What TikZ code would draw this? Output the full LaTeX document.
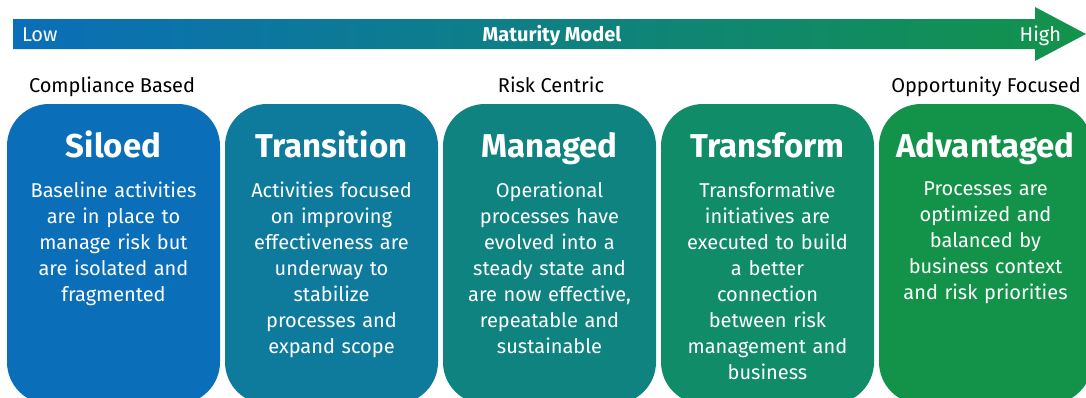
\documentclass[tikz,border=0pt]{standalone}
\usepackage{fontspec}
\setmainfont{Fira Sans}
\usetikzlibrary{positioning}

\definecolor{siloedblue}{HTML}{0A6EB9}
\definecolor{transteal}{HTML}{0F7B9C}
\definecolor{managedteal}{HTML}{0E8380}
\definecolor{transfgreen}{HTML}{108C68}
\definecolor{advgreen}{HTML}{13934A}
\definecolor{barmid}{HTML}{5E8A86}

\begin{document}
\begin{tikzpicture}[x=1pt,y=-1pt,
    every node/.style={inner sep=0,outer sep=1},
    stagebox/.style={rounded corners=42pt,minimum width=213pt,minimum height=300pt},
    stagetitle/.style={text=white,font=\fontsize{33}{40}\selectfont\bfseries,anchor=base},
    stagetext/.style={text=white,font=\fontsize{20}{26}\selectfont,text width=200pt,align=center,anchor=north},
    barlabel/.style={text=white,font=\fontsize{20}{24}\selectfont,anchor=base},
    levellabel/.style={font=\fontsize{20}{24}\selectfont,anchor=base}]
    \useasboundingbox (0,0) rectangle (1086,397);
    \clip (0,0) rectangle (1086,397);
    % maturity arrow
    \shade[left color=siloedblue,middle color=barmid,right color=advgreen]
    (13,19) -- (1035,19) -- (1035,7) -- (1086,34) -- (1035,61) -- (1035,49) -- (13,49) -- cycle;
    \node[barlabel,anchor=base west] (low) at (21,41) {Low};
    \node[barlabel,font=\fontsize{20}{24}\selectfont\bfseries] (maturity) at (552,41) {Maturity Model};
    \node[barlabel,anchor=base east] (high) at (1062,41) {High};
    % levels
    \node[levellabel] (compliance)  at (112,92) {Compliance Based};
    \node[levellabel] (riskcentric) at (551,92) {Risk Centric};
    \node[levellabel] (opportunity) at (986,92) {Opportunity Focused};
    % stages
    \node[stagebox,fill=siloedblue]  (siloed)     at (113.5,254) {};
    \node[stagebox,fill=transteal]   (transition) at (331.5,254) {};
    \node[stagebox,fill=managedteal] (managed)    at (549.5,254) {};
    \node[stagebox,fill=transfgreen] (transform)  at (767.5,254) {};
    \node[stagebox,fill=advgreen]    (advantaged) at (985.5,254) {};
    \node[stagetitle] (siloedtitle)     at (113.5,157) {Siloed};
    \node[stagetitle] (transitiontitle) at (331.5,157) {Transition};
    \node[stagetitle] (managedtitle)    at (549.5,157) {Managed};
    \node[stagetitle] (transformtitle)  at (767.5,157) {Transform};
    \node[stagetitle] (advantagedtitle) at (985.5,157) {Advantaged};
    \node[stagetext] (siloedtext) at (113.5,181)
        {Baseline activities\\ are in place to\\ manage risk but\\ are isolated and\\ fragmented};
    \node[stagetext] (transitiontext) at (331.5,181)
        {Activities focused\\ on improving\\ effectiveness are\\ underway to\\ stabilize\\ processes and\\ expand scope};
    \node[stagetext] (managedtext) at (549.5,181)
        {Operational\\ processes have\\ evolved into a\\ steady state and\\ are now effective,\\ repeatable and\\ sustainable};
    \node[stagetext] (transformtext) at (767.5,181)
        {Transformative\\ initiatives are\\ executed to build\\ a better\\ connection\\ between risk\\ management and\\ business};
    \node[stagetext] (advantagedtext) at (985.5,181)
        {Processes are\\ optimized and\\ balanced by\\ business context\\ and risk priorities};
\end{tikzpicture}
\end{document}
